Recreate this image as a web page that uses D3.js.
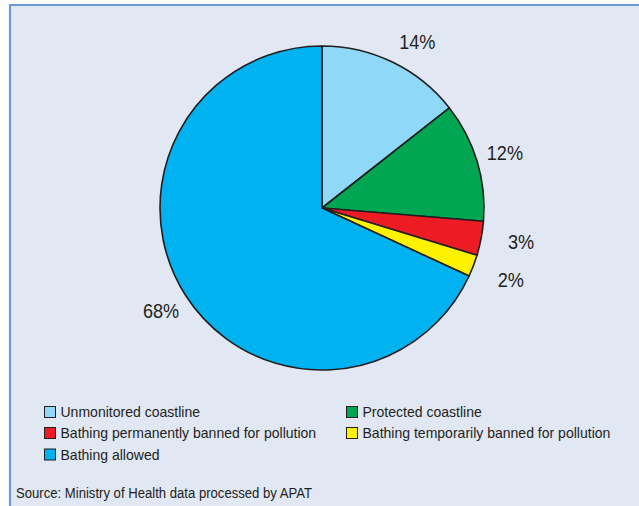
<!DOCTYPE html>
<html><head><meta charset="utf-8">
<script src="https://cdn.jsdelivr.net/npm/d3@7"></script>
<style>
html,body{margin:0;padding:0;background:#fff;}
svg{display:block;}
text{font-family:"Liberation Sans",Arial,sans-serif;fill:#231f20;}
</style></head>
<body>
<script>
const categories = ["Unmonitored coastline","Protected coastline","Bathing permanently banned for pollution","Bathing temporarily banned for pollution","Bathing allowed"];
const values = [14.4, 11.9, 3.4, 2.2, 68.1];
const labels = ["14%","12%","3%","2%","68%"];
const colors = ["#8fd8f8","#00a651","#ed1c24","#fff200","#00b2ef"];
const source = "Source: Ministry of Health data processed by APAT";

const W = 639, H = 506;
const svg = d3.select("body").append("svg").attr("width", W).attr("height", H);

// panel
svg.append("rect").attr("x", 10).attr("y", 5).attr("width", W - 10).attr("height", H - 5).attr("fill", "#e1e7f3");
svg.append("path").attr("d", `M10,${H} L10,5 L${W},5`).attr("fill", "none").attr("stroke", "#6b9bd1").attr("stroke-width", 2.2);

const cx = 322, cy = 208, r = 162;
const g = svg.append("g").attr("transform", `translate(${cx},${cy})`);
const pie = d3.pie().sort(null).value(d => d)(values);
const arc = d3.arc().innerRadius(0).outerRadius(r);
g.selectAll("path.slice").data(pie).join("path")
  .attr("class", "slice")
  .attr("d", arc)
  .attr("fill", (d, i) => colors[i])
  .attr("stroke", "#231f20")
  .attr("stroke-width", 1.6)
  .attr("stroke-linejoin", "round");

const angNudge = [0.07, 0, -0.02, 0, 0];
g.selectAll("g.lbl").data(pie).join("g")
  .attr("class", "lbl")
  .attr("transform", (d, i) => {
    const a = (d.startAngle + d.endAngle) / 2 + angNudge[i];
    const lr = (d.value < 5 ? r + 40 : r + 29);
    return `translate(${Math.sin(a) * lr},${-Math.cos(a) * lr}) scale(0.93,1)`;
  })
  .append("text")
  .attr("text-anchor", "middle")
  .attr("dominant-baseline", "central")
  .attr("font-size", 19.5)
  .text((d, i) => labels[i]);

// legend
const colX = [44, 346], rowY = [412, 433, 454.5];
const leg = svg.append("g");
categories.forEach((c, i) => {
  const col = i % 2, row = Math.floor(i / 2);
  const x = colX[col], y = rowY[row];
  leg.append("rect").attr("x", x + 0.5).attr("y", y - 5.5).attr("width", 11).attr("height", 11)
    .attr("fill", colors[i]).attr("stroke", "#231f20").attr("stroke-width", 1);
  leg.append("g").attr("transform", `translate(${x + 16.5},${y}) scale(0.935,1)`)
    .append("text").attr("dominant-baseline", "central")
    .attr("font-size", 15).text(c);
});

svg.append("g").attr("transform", "translate(16,493) scale(0.875,1)")
  .append("text").attr("dominant-baseline", "central")
  .attr("font-size", 15).text(source);
</script>
</body></html>
